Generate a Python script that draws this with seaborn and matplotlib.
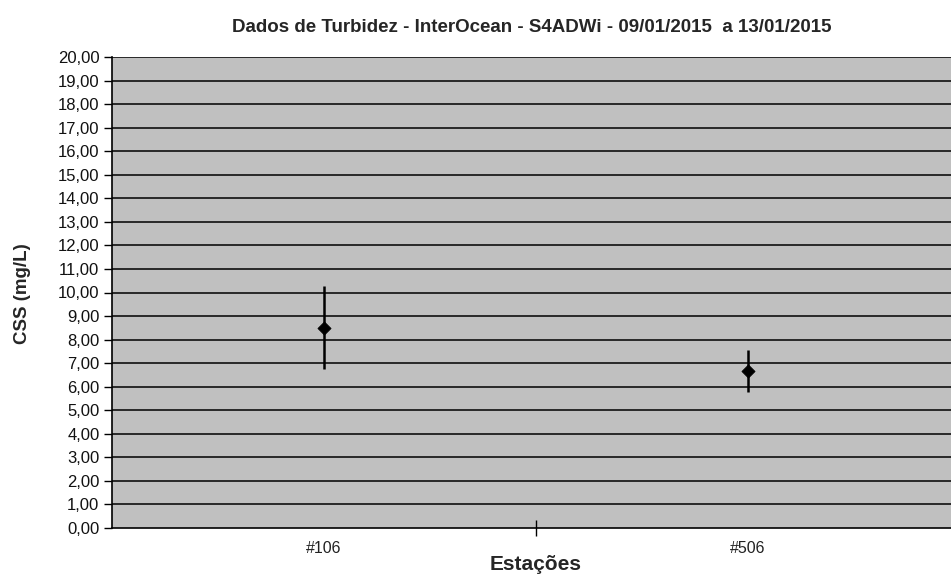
import matplotlib
matplotlib.use("Agg")
import matplotlib.pyplot as plt
import seaborn as sns
import pandas as pd
from matplotlib.ticker import FuncFormatter, MultipleLocator

# Station means and standard deviations of suspended solids (mg/L)
stations = ["#106", "#506"]
css_mean = [8.50, 6.68]
css_std = [1.76, 0.89]

df = pd.DataFrame({"Estação": stations, "CSS": css_mean, "std": css_std})
df["pos"] = range(len(stations))

sns.set_theme(style="white")
plt.rcParams["font.family"] = ["Liberation Sans", "DejaVu Sans"]

fig = plt.figure(figsize=(9.51, 5.75), dpi=100)
ax = fig.add_axes([112 / 951, 1 - 528 / 575, (960 - 112) / 951, (528 - 57) / 575])
ax.set_facecolor("#c0c0c0")

# horizontal grid at every unit
for v in range(1, 21):
    ax.axhline(v, color="black", lw=1.1, zorder=1)

# error bars (mean ± std)
ax.vlines(df["pos"], df["CSS"] - df["std"], df["CSS"] + df["std"],
          color="black", lw=1.8, zorder=3)
sns.scatterplot(data=df, x="pos", y="CSS", marker="D", color="black",
                s=45, edgecolor="black", zorder=4, ax=ax, legend=False)

ax.set_xlim(-0.5, 1.5)
ax.set_ylim(0, 20)
ax.yaxis.set_major_locator(MultipleLocator(1))
ax.yaxis.set_major_formatter(FuncFormatter(lambda v, p: f"{v:.2f}".replace(".", ",")))
ax.set_xticks([0.5])
ax.set_xticklabels([""])
ax.tick_params(axis="y", direction="out", length=6, width=1, color="black",
               labelsize=12, pad=3, left=True, labelcolor="#111111")
ax.tick_params(axis="x", direction="inout", length=12, width=1, color="black", bottom=True)
for i, name in enumerate(stations):
    ax.text(i, -0.85, name, ha="center", va="center", fontsize=11.5, color="#222222")

for side in ["top", "right"]:
    ax.spines[side].set_visible(False)
for side in ["left", "bottom"]:
    ax.spines[side].set_color("black")
    ax.spines[side].set_linewidth(1.2)

ax.set_xlabel("")
ax.set_ylabel("")
fig.text(23 / 951, 1 - 294 / 575, "CSS (mg/L)", rotation=90, ha="center", va="center",
         fontsize=13.5, fontweight="bold")
fig.text(536 / 951, 1 - 565 / 575, "Estações", ha="center", va="center",
         fontsize=15, fontweight="bold")
fig.text(532 / 951, 1 - 28 / 575,
         "Dados de Turbidez - InterOcean - S4ADWi - 09/01/2015  a 13/01/2015",
         ha="center", va="center", fontsize=13.5, fontweight="bold")

fig.savefig("out.png", dpi=100, facecolor="white")
